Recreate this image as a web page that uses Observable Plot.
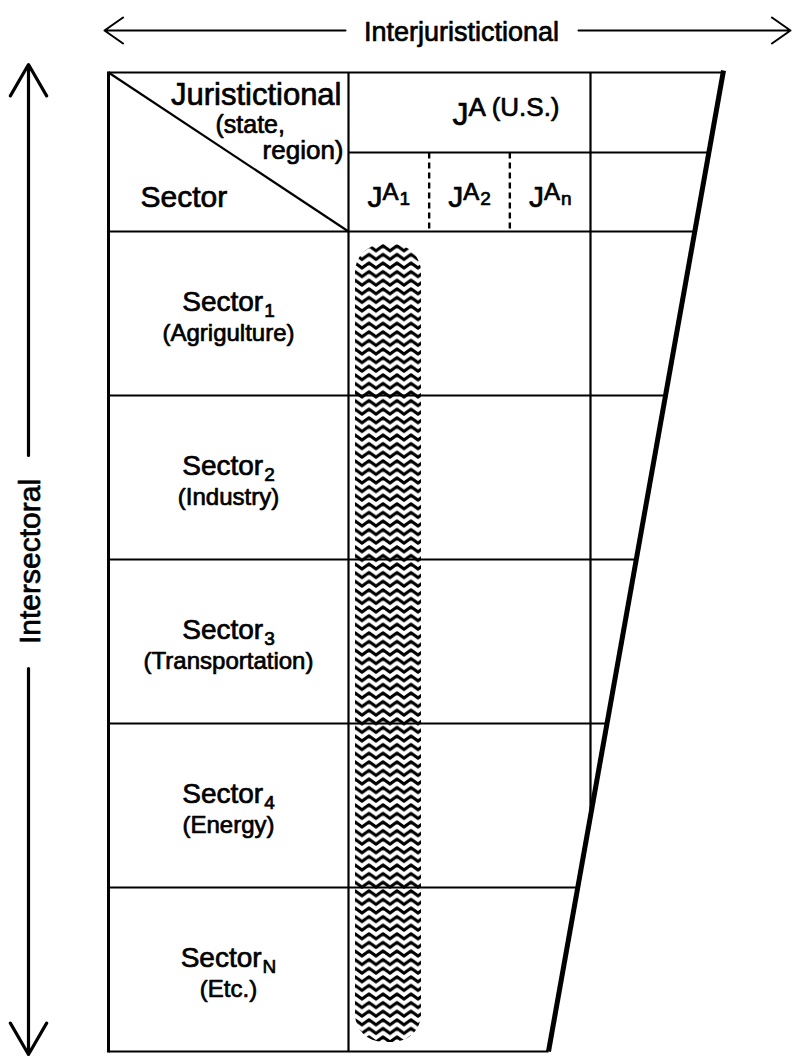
<!DOCTYPE html>
<html>
<head>
<meta charset="utf-8">
<script src="https://cdn.jsdelivr.net/npm/d3@7"></script>
<script src="https://cdn.jsdelivr.net/npm/@observablehq/plot@0.6"></script>
<style>
  html, body { margin: 0; padding: 0; background: #fff; }
  #chart svg { display: block; }
</style>
</head>
<body>
<div id="chart"></div>
<script>
// ---- Data ----
const topLabel = "Interjuristictional";
const sideLabel = "Intersectoral";
const headerJur = ["Juristictional", "(state,", "region)"];
const headerSector = "Sector";
const nationLabel = "A (U.S.)";
const subJurisdictions = ["1", "2", "n"];
const sectorSubs = ["1", "2", "3", "4", "N"];
const sectorDesc = ["(Agrigulture)", "(Industry)", "(Transportation)", "(Energy)", "(Etc.)"];

// ---- Layout ----
const W = 793, H = 1057;
const FONT = "Liberation Sans, Arial, Helvetica, sans-serif";
const WEIGHT = "normal";
const L = 108, C1 = 348, C2 = 590;
const TOP = 72, HMID = 152, HBOT = 231, ROWH = 164;
const BOT = HBOT + ROWH * sectorSubs.length;
const slantTop = [723, TOP], slantBot = [548, BOT];
const slantX = y => slantTop[0] + (slantBot[0] - slantTop[0]) * (y - slantTop[1]) / (slantBot[1] - slantTop[1]);
const cellW = (C2 - C1) / subJurisdictions.length;

const ctx = document.createElement("canvas").getContext("2d");
const tw = (s, size) => { ctx.font = `${WEIGHT} ${size}px "Liberation Sans"`; return ctx.measureText(s).width; };

// lines
const solid = [];
const rowLines = d3.range(sectorSubs.length + 1).map(i => HBOT + i * ROWH);
solid.push({x1: L, y1: TOP, x2: slantX(TOP) - 2, y2: TOP});
solid.push({x1: C1, y1: HMID, x2: slantX(HMID), y2: HMID});
rowLines.forEach(y => solid.push({x1: L, y1: y, x2: slantX(y), y2: y}));
solid.push({x1: C1, y1: TOP, x2: C1, y2: BOT});
const c2end = TOP + (C2 - slantTop[0]) / (slantBot[0] - slantTop[0]) * (BOT - TOP);
solid.push({x1: C2, y1: TOP, x2: C2, y2: c2end});
solid.push({x1: L, y1: TOP, x2: C1, y2: HBOT}); // diagonal
const dashed = [1, 2].map(i => ({x1: C1 + i * cellW, y1: HMID, x2: C1 + i * cellW, y2: HBOT}));

// texts
const texts = [];
function T(x, y, t, size, anchor = "middle", rotate = 0) { texts.push({x, y, t, size, anchor, rotate}); }
T(461, 40, topLabel, 27);
T(30, 561, sideLabel, 30, "middle", -90);
T(341, 104, headerJur[0], 31, "end");
T(215, 132, headerJur[1], 25, "start");
T(343, 158, headerJur[2], 26, "end");
T(140, 206, headerSector, 30, "start");
// J^A (U.S.)
{
  const x0 = 452;
  T(x0, 124, "J", 32, "start");
  T(x0 + tw("J", 32), 115, nationLabel, 26, "start");
}
subJurisdictions.forEach((s, i) => {
  const w = tw("J", 30) + tw("A", 24) + 1 + tw(s, 19);
  const x0 = C1 + (i + 0.5) * cellW - w / 2;
  T(x0, 206, "J", 30, "start");
  T(x0 + tw("J", 30), 199, "A", 24, "start");
  T(x0 + tw("J", 30) + 1 + tw("A", 24), 204, s, 19, "start");
});
sectorSubs.forEach((s, i) => {
  const cy = HBOT + (i + 0.5) * ROWH;
  const cx = (L + C1) / 2;
  const w = tw("Sector", 28) + 1 + tw(s, 19);
  const x0 = cx - w / 2;
  T(x0, cy - 3, "Sector", 28, "start");
  T(x0 + tw("Sector", 28) + 1, cy + 3, s, 19, "start");
  T(cx, cy + 27, sectorDesc[i], 24, "middle");
});

const textMarks = texts.map(d => Plot.text([d], {
  x: "x", y: "y", text: "t", fontSize: d.size, textAnchor: d.anchor,
  lineAnchor: d.rotate ? "middle" : "bottom", rotate: d.rotate,
  fontFamily: FONT, fontWeight: WEIGHT, fill: "black", stroke: "black", strokeWidth: 0.7
}));

const band = [{x1: 355, x2: 421, y1: 244, y2: 1042}];

const chart = Plot.plot({
  width: W, height: H, margin: 0,
  x: {domain: [0, W], range: [0, W], axis: null},
  y: {domain: [0, H], range: [0, H], axis: null},
  marks: [
    Plot.rect(band, {x1: "x1", x2: "x2", y1: "y1", y2: "y2", rx: 28, fill: "url(#zigzag)"}),
    Plot.link(solid, {x1: "x1", y1: "y1", x2: "x2", y2: "y2", stroke: "black", strokeWidth: 2.2}),
    Plot.link([{x1: L, y1: TOP - 1, x2: L, y2: BOT + 1}], {x1: "x1", y1: "y1", x2: "x2", y2: "y2", stroke: "black", strokeWidth: 3}),
    Plot.link(dashed, {x1: "x1", y1: "y1", x2: "x2", y2: "y2", stroke: "black", strokeWidth: 2.4, strokeDasharray: "6,4"}),
    Plot.link([{x1: slantTop[0], y1: slantTop[1] - 2, x2: slantBot[0], y2: slantBot[1]}], {x1: "x1", y1: "y1", x2: "x2", y2: "y2", stroke: "black", strokeWidth: 5}),
    Plot.arrow([{x1: 345, y1: 30, x2: 104, y2: 30}, {x1: 578, y1: 30, x2: 790, y2: 30}],
      {x1: "x1", y1: "y1", x2: "x2", y2: "y2", stroke: "black", strokeWidth: 2, headLength: 17, headAngle: 70}),
    Plot.arrow([{x1: 28, y1: 455, x2: 28, y2: 64}, {x1: 28, y1: 668, x2: 28, y2: 1054}],
      {x1: "x1", y1: "y1", x2: "x2", y2: "y2", stroke: "black", strokeWidth: 3.2, headLength: 17, headAngle: 60}),
    ...textMarks
  ]
});

// zigzag pattern fill for the band
const ns = "http://www.w3.org/2000/svg";
const defs = document.createElementNS(ns, "defs");
defs.innerHTML = `<pattern id="zigzag" patternUnits="userSpaceOnUse" width="14" height="8.6" x="355" y="244">
  <path d="M-3.5,6.8 L0,1.8 L7,6.8 L14,1.8 L17.5,6.8" fill="none" stroke="black" stroke-width="3" stroke-linejoin="round" stroke-linecap="round"/>
</pattern>`;
chart.insertBefore(defs, chart.firstChild);
document.getElementById("chart").appendChild(chart);
</script>
</body>
</html>
